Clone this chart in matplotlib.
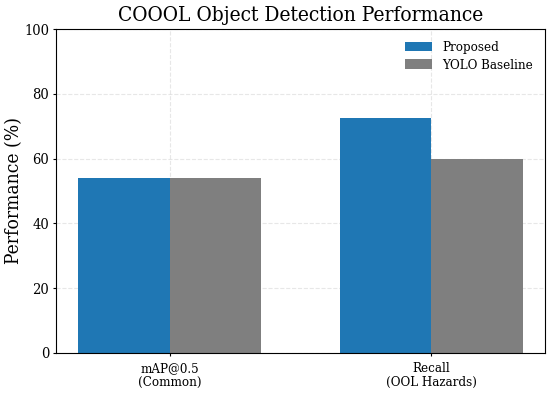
import matplotlib.pyplot as plt
import numpy as np

plt.rcParams['font.family'] = 'DejaVu Serif'
plt.rcParams['font.stretch'] = 'condensed'

categories = ['mAP@0.5\n(Common)', 'Recall\n(OOL Hazards)']
proposed = [54.0, 72.5]
yolo = [54.0, 60.0]

x = np.arange(len(categories))
width = 0.35

fig, ax = plt.subplots(figsize=(5.5, 3.93), dpi=100)
ax.bar(x - width/2, proposed, width, label='Proposed', color='#1f77b4')
ax.bar(x + width/2, yolo, width, label='YOLO Baseline', color='#7f7f7f')

ax.set_ylim(0, 100)
ax.set_xticks(x)
ax.set_xticklabels(categories, fontsize=9.5, linespacing=1.1)
ax.tick_params(axis='both', length=2.5, pad=2.5)
ax.tick_params(axis='x', pad=4)
ax.tick_params(axis='y', labelsize=10.5)
ax.set_ylabel('Performance (%)', fontsize=13.8)
ax.yaxis.set_label_coords(-0.068, 0.5)
ax.set_title('COOOL Object Detection Performance', fontsize=15)
ax.grid(True, linestyle='--', alpha=0.3)
ax.set_axisbelow(True)
ax.legend(frameon=False, fontsize=9.5, labelspacing=0.35)

fig.subplots_adjust(left=0.102, right=0.991, top=0.926, bottom=0.102)
plt.savefig('out.png', dpi=100)
